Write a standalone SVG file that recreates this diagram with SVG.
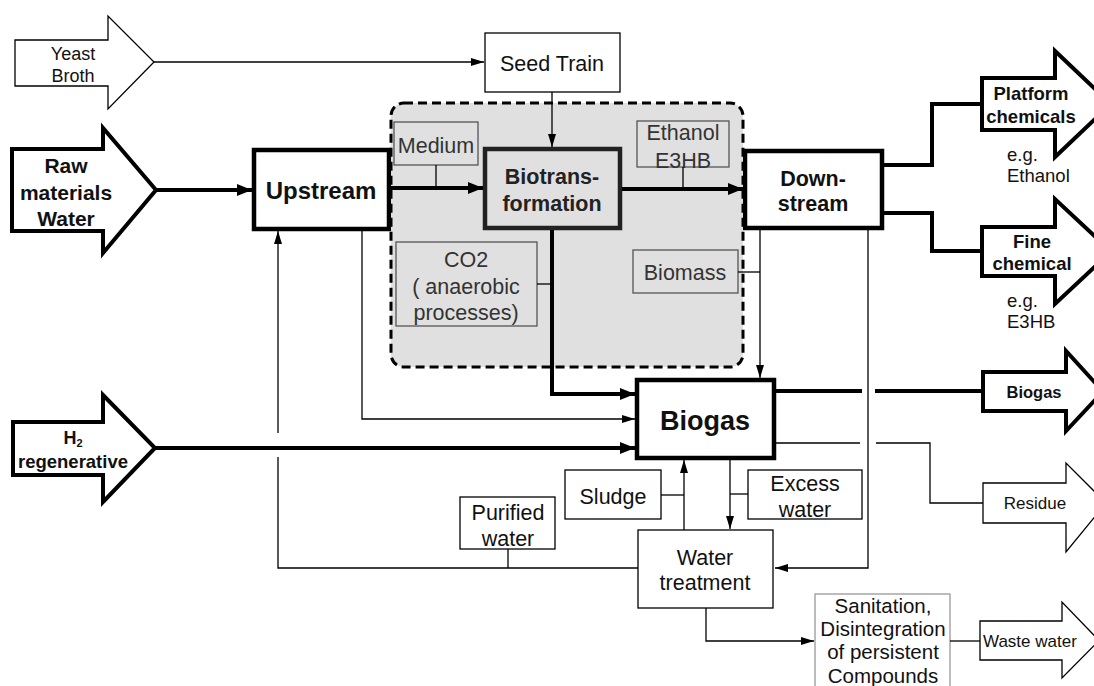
<svg xmlns="http://www.w3.org/2000/svg" width="1094" height="686" viewBox="0 0 1094 686">
<defs>
<style>
text{font-family:"Liberation Sans",Arial,sans-serif;fill:#111;text-anchor:middle}
.b{font-weight:bold}
.r21{font-size:21.5px}
.g{fill:#333}
.thick{fill:none;stroke:#000;stroke-width:4}
.thin{fill:none;stroke:#000;stroke-width:1.3}
.box{fill:#fff;stroke:#000;stroke-width:1.3}
.bbox{fill:#fff;stroke:#000;stroke-width:4.5}
.ibox{fill:#e0e0e0;stroke:#555;stroke-width:1.3}
.arrT{fill:#fff;stroke:#000;stroke-width:4;stroke-linejoin:miter}
.arrt{fill:#fff;stroke:#000;stroke-width:1.3}
</style>
<marker id="ah" markerUnits="userSpaceOnUse" markerWidth="14" markerHeight="10" refX="13" refY="5" orient="auto"><path d="M0,1 L13,5 L0,9 z" fill="#000"/></marker>
<marker id="ahT" markerUnits="userSpaceOnUse" markerWidth="16" markerHeight="14" refX="15" refY="7" orient="auto"><path d="M0,1 L15,7 L0,13 z" fill="#000"/></marker>
</defs>
<rect width="1094" height="686" fill="#fff"/>

<g id="yeast-broth">
<polygon class="arrt" points="15,40 108,40 108,16 154,62 108,109 108,86 15,86"/>
<text x="73" y="59.5" font-size="18">Yeast</text>
<text x="73" y="81.5" font-size="18">Broth</text>
</g>

<g id="raw-materials">
<polygon class="arrT" points="12,149 103,149 103,128 156,190 103,253 103,231 12,231"/>
<text class="b" x="66" y="172.5" font-size="21">Raw</text>
<text class="b" x="66" y="199.5" font-size="21">materials</text>
<text class="b" x="66" y="225.5" font-size="21">Water</text>
</g>

<g id="h2">
<polygon class="arrT" points="13,422 103,422 103,395 155,448 103,502 103,475 13,475"/>
<text class="b" x="73" y="444" font-size="18">H<tspan font-size="11" dy="3">2</tspan></text>
<text class="b" x="73" y="468" font-size="18.5">regenerative</text>
</g>

<g id="upstream">
<rect class="bbox" x="254" y="150" width="135" height="79"/>
<text class="b" x="321" y="198.6" font-size="24">Upstream</text>
</g>

<g id="downstream">
<rect class="bbox" x="745" y="151" width="137" height="77"/>
<text class="b r21" x="813" y="185.7">Down-</text>
<text class="b r21" x="813" y="210.7">stream</text>
</g>

<g id="bioprocess-region">
<rect x="391" y="103" width="352" height="264" rx="13" ry="13" fill="#e0e0e0" stroke="#000" stroke-width="3" stroke-dasharray="9 5"/>
</g>

<g id="seed-train">
<rect class="box" x="485" y="33" width="135" height="59"/>
<text class="r21" x="552" y="70.7">Seed Train</text>
</g>

<g id="medium">
<rect class="ibox" x="394" y="122" width="84" height="43"/>
<text class="r21 g" x="436" y="152.7">Medium</text>
</g>

<g id="ethanol-e3hb">
<rect class="ibox" x="637" y="121" width="92" height="46"/>
<text class="r21 g" x="683" y="139.7">Ethanol</text>
<text class="r21 g" x="683" y="167.7">E3HB</text>
</g>

<g id="biotransformation">
<rect x="485" y="149" width="135" height="79" fill="#e0e0e0" stroke="#222" stroke-width="4.5"/>
<text class="b r21" x="552" y="183.7" style="fill:#222">Biotrans-</text>
<text class="b r21" x="552" y="210.7" style="fill:#222">formation</text>
</g>

<g id="co2">
<rect class="ibox" x="396" y="242" width="141" height="84"/>
<text class="r21 g" x="466" y="266.7">CO2</text>
<text class="r21 g" x="466" y="293.7">( anaerobic</text>
<text class="r21 g" x="466" y="319.7">processes)</text>
</g>

<g id="biomass">
<rect class="ibox" x="633" y="250" width="105" height="43"/>
<text class="r21 g" x="685" y="279.7">Biomass</text>
</g>

<g id="biogas">
<rect class="bbox" x="637" y="380" width="137" height="78"/>
<text class="b" x="705" y="429.7" font-size="27">Biogas</text>
</g>

<g id="sludge">
<rect class="box" x="565" y="470" width="96" height="49"/>
<text class="r21" x="613" y="503.7">Sludge</text>
</g>

<g id="excess-water">
<rect class="box" x="748" y="470" width="114" height="49"/>
<text class="r21" x="805" y="490.7">Excess</text>
<text class="r21" x="805" y="517">water</text>
</g>

<g id="purified-water">
<rect class="box" x="460" y="497" width="95" height="52"/>
<text class="r21" x="508" y="519.7">Purified</text>
<text class="r21" x="508" y="546">water</text>
</g>

<g id="water-treatment">
<rect class="box" x="638" y="530" width="135" height="78"/>
<text class="r21" x="705" y="564.7">Water</text>
<text class="r21" x="705" y="590">treatment</text>
</g>

<g id="sanitation">
<rect x="815" y="594" width="135" height="100" fill="#fff" stroke="#999" stroke-width="1.3"/>
<text x="883" y="613" font-size="20.5">Sanitation,</text>
<text x="883" y="636" font-size="20.5">Disintegration</text>
<text x="883" y="659" font-size="20.5">of persistent</text>
<text x="883" y="683" font-size="20.5">Compounds</text>
</g>

<g id="platform-chemicals">
<polygon class="arrT" points="982,78 1055,78 1055,51 1111,104 1055,157 1055,130 982,130"/>
<text class="b" x="1031" y="99.6" font-size="18.5">Platform</text>
<text class="b" x="1031" y="122.6" font-size="18.5">chemicals</text>
<text x="1007" y="161" font-size="18.5" style="text-anchor:start">e.g.</text>
<text x="1007" y="182" font-size="18.5" style="text-anchor:start">Ethanol</text>
</g>

<g id="fine-chemical">
<polygon class="arrT" points="982,227 1055,227 1055,199 1111,251.5 1055,304 1055,276 982,276"/>
<text class="b" x="1032" y="247.6" font-size="18.5">Fine</text>
<text class="b" x="1032" y="269.6" font-size="18.5">chemical</text>
<text x="1007" y="307" font-size="18.5" style="text-anchor:start">e.g.</text>
<text x="1007" y="328" font-size="18.5" style="text-anchor:start">E3HB</text>
</g>

<g id="biogas-out">
<polygon class="arrT" points="983,372 1066,372 1066,351 1103,391.5 1066,431 1066,411 983,411"/>
<text class="b" x="1034" y="398" font-size="16.5">Biogas</text>
</g>

<g id="residue">
<polygon class="arrt" points="983,483 1066,483 1066,463 1106,503 1066,552 1066,523 983,523"/>
<text x="1035" y="509" font-size="17">Residue</text>
</g>

<g id="waste-water">
<polygon class="arrt" points="980,621 1062,621 1062,602 1099,640.5 1062,678 1062,660 980,660"/>
<text x="983" y="647" font-size="17" style="text-anchor:start">Waste water</text>
</g>

<g id="connectors">
<path class="thin" d="M154,62 L484,62" marker-end="url(#ah)"/>
<path class="thin" d="M552,92 L552,147" marker-end="url(#ah)"/>
<path class="thick" d="M156,190 L252,190" marker-end="url(#ahT)"/>
<path class="thick" d="M391,188 L483,188" marker-end="url(#ahT)"/>
<path class="thin" d="M436,165 L436,188"/>
<path class="thick" d="M622,189 L743,189" marker-end="url(#ahT)"/>
<path class="thin" d="M683,167 L683,189"/>
<path class="thick" d="M884,165 L932,165 L932,104 L982,104"/>
<path class="thick" d="M884,213 L932,213 L932,251 L982,251"/>
<path class="thick" d="M552,230 L552,394 L635,394" marker-end="url(#ahT)"/>
<path class="thin" d="M537,284 L552,284"/>
<path class="thin" d="M738,272 L760,272"/>
<path class="thin" d="M760,230 L760,378" marker-end="url(#ah)"/>
<path class="thin" d="M868,230 L868,568 L775,568" marker-end="url(#ah)"/>
<path class="thin" d="M362,231 L362,419 L635,419" marker-end="url(#ah)"/>
<path class="thick" d="M155,448 L635,448" marker-end="url(#ahT)"/>
<path class="thin" d="M638,568 L278,568 L278,457"/>
<path class="thin" d="M278,433 L278,231" marker-end="url(#ah)"/>
<path class="thin" d="M508,549 L508,568"/>
<path class="thick" d="M776,391 L862,391"/>
<path class="thick" d="M875,391 L983,391"/>
<path class="thin" d="M776,443 L860,443"/>
<path class="thin" d="M876,443 L930,443 L930,503 L983,503"/>
<path class="thin" d="M684,530 L684,460" marker-end="url(#ah)"/>
<path class="thin" d="M661,495 L684,495"/>
<path class="thin" d="M730,460 L730,529" marker-end="url(#ah)"/>
<path class="thin" d="M748,494 L730,494"/>
<path class="thin" d="M706,608 L706,641 L814,641" marker-end="url(#ah)"/>
<path class="thin" d="M950,641 L980,641"/>
</g>
</svg>
